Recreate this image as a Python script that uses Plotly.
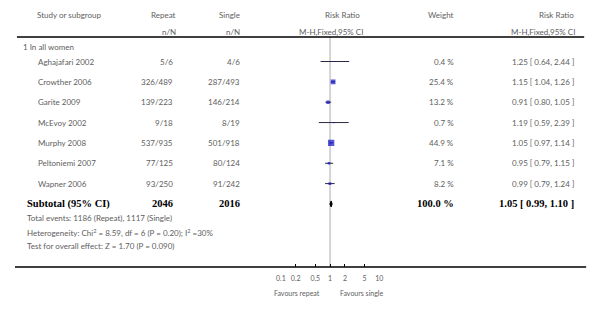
import plotly.graph_objects as go
import math

# ---- data ----
studies = ["Aghajafari 2002", "Crowther 2006", "Garite 2009", "McEvoy 2002",
           "Murphy 2008", "Peltoniemi 2007", "Wapner 2006"]
repeat_nN = ["5/6", "326/489", "139/223", "9/18", "537/935", "77/125", "93/250"]
single_nN = ["4/6", "287/493", "146/214", "8/19", "501/918", "80/124", "91/242"]
rr = [1.25, 1.15, 0.91, 1.19, 1.05, 0.95, 0.99]
rr_lo = [0.64, 1.04, 0.80, 0.59, 0.97, 0.79, 0.79]
rr_hi = [2.44, 1.26, 1.05, 2.39, 1.14, 1.15, 1.24]
weights = [0.4, 25.4, 13.2, 0.7, 44.9, 7.1, 8.2]

subtotal_rr, subtotal_lo, subtotal_hi = 1.05, 0.99, 1.10
subtotal_repeat, subtotal_single = "2046", "2016"
subtotal_weight = "100.0 %"

tick_vals = [0.1, 0.2, 0.5, 1, 2, 5, 10]
tick_text = ["0.1", "0.2", "0.5", "1", "2", "5", "10"]

footer = ["Total events: 1186 (Repeat), 1117 (Single)",
          "Heterogeneity: Chi<sup>2</sup> = 8.59, df = 6 (P = 0.20); I<sup>2</sup> =30%",
          "Test for overall effect: Z = 1.70 (P = 0.090)"]

# ---- layout constants (pixels in the 600x310 page) ----
OFF = 8                      # page body margin
W, H = 600 - OFF, 310 - OFF  # figure size
GREY = "#5e5e5e"
SANS = "Lato"
SERIF = "Liberation Serif"
FS = 8
row0, step = 61.5, 20.35
rows_y = [row0 + i * step for i in range(len(studies))]
sub_y = row0 + len(studies) * step
axis_y = 267
top_line_y = 37

def px(x):
    return (x - OFF) / W

fig = go.Figure()

# CI lines
xs, ys = [], []
for lo, hi, y in zip(rr_lo, rr_hi, rows_y):
    xs += [lo, hi, None]
    ys += [y, y, None]
fig.add_trace(go.Scatter(x=xs, y=ys, mode="lines",
                         line=dict(color="#2a2a40", width=1), hoverinfo="skip"))

# squares
sizes = [max(1.2, 0.95 * math.sqrt(w)) for w in weights]
fig.add_trace(go.Scatter(x=rr, y=rows_y, mode="markers",
                         marker=dict(symbol="square", size=sizes, color="#1010c8",
                                     line=dict(width=0)), hoverinfo="skip"))

# diamond
h = 3
fig.add_trace(go.Scatter(x=[subtotal_lo, subtotal_rr, subtotal_hi, subtotal_rr, subtotal_lo],
                         y=[sub_y, sub_y - h, sub_y, sub_y + h, sub_y],
                         mode="lines", fill="toself", fillcolor="black",
                         line=dict(color="black", width=1), hoverinfo="skip"))

shapes = []
shapes.append(dict(type="line", xref="x", yref="y", x0=1, x1=1, y0=top_line_y, y1=axis_y,
                   line=dict(color="#d4d4d4", width=2), layer="below"))
shapes.append(dict(type="line", xref="paper", yref="y", x0=px(12), x1=px(588),
                   y0=top_line_y, y1=top_line_y, line=dict(color="black", width=1.3)))
shapes.append(dict(type="line", xref="paper", yref="y", x0=px(10), x1=px(590),
                   y0=axis_y, y1=axis_y, line=dict(color="black", width=1.3)))

ann = []
def txt(x, y, s, anchor="left", size=FS, color=GREY, family=SANS):
    ann.append(dict(x=px(x), y=y, xref="paper", yref="y", text=s, showarrow=False,
                    xanchor=anchor, yanchor="middle",
                    font=dict(size=size, color=color, family=family)))

# headers
txt(30, 15, "Study or subgroup")
txt(176, 15, "Repeat", "right")
txt(176, 32, "n/N", "right")
txt(241, 15, "Single", "right")
txt(241, 32, "n/N", "right")
txt(362, 15, "Risk Ratio", "right")
txt(365, 32, "M-H,Fixed,95% CI", "right")
txt(458, 15, "Weight", "right")
txt(580, 15, "Risk Ratio", "right")
txt(581, 32, "M-H,Fixed,95% CI", "right")
txt(16, 47, "1 In all women")

for i, y in enumerate(rows_y):
    txt(31, y, studies[i])
    txt(173, y, repeat_nN[i], "right")
    txt(241, y, single_nN[i], "right")
    txt(458, y, f"{weights[i]:.1f} %", "right")
    txt(580, y, f"{rr[i]:.2f} [ {rr_lo[i]:.2f}, {rr_hi[i]:.2f} ]", "right")

BS = 10.5
txt(20, sub_y, "<b>Subtotal (95% CI)</b>", size=BS, color="black", family=SERIF)
txt(173, sub_y, f"<b>{subtotal_repeat}</b>", "right", size=BS, color="black", family=SERIF)
txt(241, sub_y, f"<b>{subtotal_single}</b>", "right", size=BS, color="black", family=SERIF)
txt(458, sub_y, f"<b>{subtotal_weight}</b>", "right", size=BS, color="black", family=SERIF)
txt(580, sub_y, f"<b>{subtotal_rr:.2f} [ {subtotal_lo:.2f}, {subtotal_hi:.2f} ]</b>", "right",
    size=BS, color="black", family=SERIF)

for j, s in enumerate(footer):
    txt(20, 218 + 14 * j, s)

txt(322, 293, "Favours repeat", "right", size=7)
txt(338, 293, "Favours single", "left", size=7)

fig.update_layout(
    width=W, height=H, autosize=False,
    margin=dict(l=0, r=0, t=0, b=0),
    paper_bgcolor="white", plot_bgcolor="rgba(0,0,0,0)",
    showlegend=False,
    shapes=shapes, annotations=ann,
    xaxis=dict(type="log", range=[-1, 1], domain=[px(280), px(380)],
               anchor="free", position=(H - (axis_y - OFF)) / H,
               tickvals=tick_vals, ticktext=tick_text,
               ticks="inside", ticklen=3, tickwidth=1, tickcolor="black",
               ticklabelstandoff=6,
               showgrid=False, zeroline=False, showline=False,
               tickfont=dict(size=7, color=GREY, family=SANS)),
    yaxis=dict(range=[310, OFF], domain=[0, 1], visible=False, showgrid=False, zeroline=False),
)

fig.write_html("out.html")
